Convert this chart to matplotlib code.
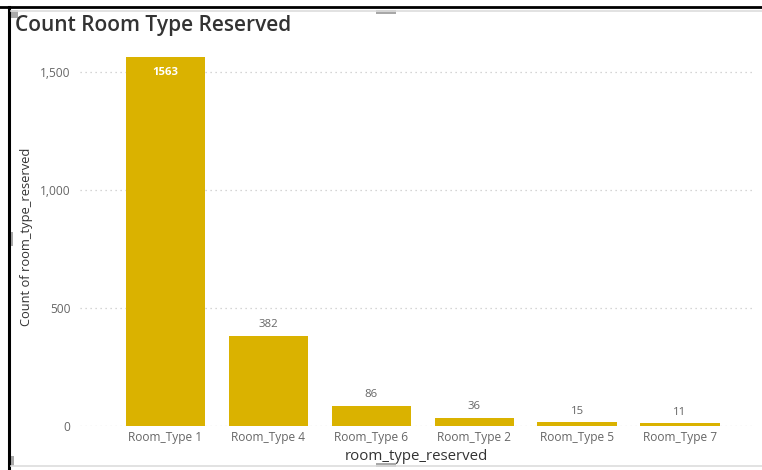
import matplotlib
matplotlib.use("Agg")
import matplotlib.pyplot as plt
from matplotlib.lines import Line2D
from matplotlib.patches import Rectangle

categories = ["Room_Type 1", "Room_Type 4", "Room_Type 6", "Room_Type 2", "Room_Type 5", "Room_Type 7"]
counts = [1563, 382, 86, 36, 15, 11]
yticks = [0, 500, 1000, 1500]
ytick_labels = ["0", "500", "1,000", "1,500"]

plt.rcParams['font.family'] = ['Open Sans', 'DejaVu Sans']

W, H = 762, 470
fig = plt.figure(figsize=(W / 100, H / 100), dpi=100)
fig.patch.set_facecolor("white")

ax = fig.add_axes([80 / W, 44 / H, 672 / W, 377.6 / H])
x = list(range(len(categories)))
ax.bar(x, counts, width=0.77, color="#DAB200", zorder=3)
ax.set_xlim(-0.83, 5.7)
ax.set_ylim(0, 1600)
ax.set_yticks(yticks)
ax.set_yticklabels(ytick_labels)
ax.set_xticks(x)
ax.set_xticklabels(categories)
ax.tick_params(axis="both", length=0, labelsize=8.6, colors="#666666")
ax.tick_params(axis="y", pad=7)
ax.tick_params(axis="x", pad=3.5)
for s in ax.spines.values():
    s.set_visible(False)
ax.grid(axis="y", linestyle=(0, (1, 3)), color="#C8C8C8", linewidth=0.9, zorder=0)
ax.set_axisbelow(True)

for xi, v in zip(x, counts):
    if v > 1000:
        ax.text(xi, v - 40, str(v), ha="center", va="top", color="white",
                fontsize=8.2, fontweight="bold", zorder=4)
    else:
        ax.text(xi, v + 25, str(v), ha="center", va="bottom", color="#666666",
                fontsize=8.2, zorder=4)

ax.set_xlabel("room_type_reserved", fontsize=10.8, color="#333333", labelpad=4)
ax.set_ylabel("Count of room_type_reserved", fontsize=9.3, color="#333333", labelpad=5)

fig.text(15 / W, 1 - 25 / H, "Count Room Type Reserved", fontsize=15, color="#333333",
         ha="left", va="center", fontweight="semibold")

# Frame decorations
fig.add_artist(Line2D([0, 1], [1 - 7 / H, 1 - 7 / H], color="black", linewidth=2.0))
fig.add_artist(Line2D([8.5 / W, 8.5 / W], [0, 1 - 7 / H], color="black", linewidth=2.2))
fig.add_artist(Line2D([11 / W, 1], [1 - 11 / H, 1 - 11 / H], color="#DDDDDD", linewidth=1.2))
fig.add_artist(Line2D([11 / W, 1], [1 - 466 / H, 1 - 466 / H], color="#DDDDDD", linewidth=1.2))
for (rx, ry, rw, rh) in [(376, 10, 20, 4), (376, 463, 20, 4), (9, 232, 4, 14), (10, 10, 8, 8), (10, 456, 4, 10)]:
    fig.add_artist(Rectangle((rx / W, 1 - (ry + rh) / H), rw / W, rh / H,
                             transform=fig.transFigure, color="#A8A8A8", linewidth=0))

fig.savefig("out.png", dpi=100, facecolor="white")
